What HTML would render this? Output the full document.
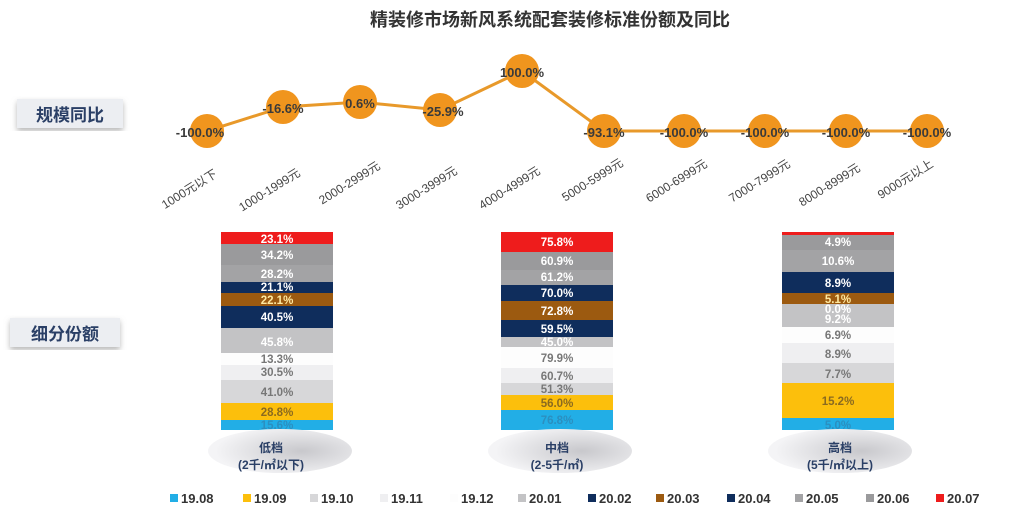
<!DOCTYPE html>
<html><head><meta charset="utf-8"><style>
body{margin:0;width:1024px;height:524px;background:#fff;overflow:hidden;font-family:"Liberation Sans","Noto Sans CJK SC",sans-serif}
</style></head><body>
<svg width="1024" height="524" xmlns="http://www.w3.org/2000/svg" style="font-family:'Liberation Sans','Noto Sans CJK SC',sans-serif">
<defs>
<radialGradient id="eg" cx="0.65" cy="0.5" r="0.6"><stop offset="0" stop-color="#c8c8cc"/><stop offset="1" stop-color="#f4f4f6"/></radialGradient>
<filter id="sh"><feDropShadow dx="0" dy="3" stdDeviation="3" flood-color="#888" flood-opacity="0.6"/></filter>
</defs>
<text x="550" y="26" text-anchor="middle" font-size="18" font-weight="bold" fill="#333">精装修市场新风系统配套装修标准份额及同比</text>
<rect x="17" y="99" width="106" height="29" fill="#eceef2" filter="url(#sh)"/>
<text x="70" y="121" text-anchor="middle" font-size="17" font-weight="bold" fill="#2a3f66">规模同比</text>
<rect x="10" y="318" width="110" height="29" fill="#eceef2" filter="url(#sh)"/>
<text x="65" y="340" text-anchor="middle" font-size="17" font-weight="bold" fill="#2a3f66">细分份额</text>
<polyline fill="none" stroke="#e8992a" stroke-width="3" points="207,131 283,107 360,102 440,110 522,71 604,131 684,131 765,131 846,131 927,131"/>
<g fill="#f0951e">
<circle cx="207" cy="131" r="17"/><circle cx="283" cy="107" r="17"/><circle cx="360" cy="102" r="17"/><circle cx="440" cy="110" r="17"/><circle cx="522" cy="71" r="17"/><circle cx="604" cy="131" r="17"/><circle cx="684" cy="131" r="17"/><circle cx="765" cy="131" r="17"/><circle cx="846" cy="131" r="17"/><circle cx="927" cy="131" r="17"/>
</g>
<g font-size="13" font-weight="bold" fill="#3a3a3a" text-anchor="middle">
<text x="200" y="137">-100.0%</text><text x="283" y="113">-16.6%</text><text x="360" y="108">0.6%</text><text x="443" y="116">-25.9%</text><text x="522" y="77">100.0%</text><text x="604" y="137">-93.1%</text><text x="684" y="137">-100.0%</text><text x="765" y="137">-100.0%</text><text x="846" y="137">-100.0%</text><text x="927" y="137">-100.0%</text>
</g>
<g font-size="12" fill="#444" text-anchor="end">
<text transform="translate(218,176) rotate(-32)">1000元以下</text>
<text transform="translate(301,175) rotate(-32)">1000-1999元</text>
<text transform="translate(381,168) rotate(-32)">2000-2999元</text>
<text transform="translate(458,173) rotate(-32)">3000-3999元</text>
<text transform="translate(541,173) rotate(-32)">4000-4999元</text>
<text transform="translate(624,165) rotate(-32)">5000-5999元</text>
<text transform="translate(708,166) rotate(-32)">6000-6999元</text>
<text transform="translate(791,166) rotate(-32)">7000-7999元</text>
<text transform="translate(861,170) rotate(-32)">8000-8999元</text>
<text transform="translate(934,166) rotate(-32)">9000元以上</text>
</g>
<g>
<rect x="221" y="232" width="112" height="12" fill="#ee1c1c"/>
<rect x="221" y="244" width="112" height="21" fill="#9a9a9c"/>
<rect x="221" y="265" width="112" height="17" fill="#a3a3a5"/>
<rect x="221" y="282" width="112" height="11" fill="#0f2d5c"/>
<rect x="221" y="293" width="112" height="13" fill="#9c5a10"/>
<rect x="221" y="306" width="112" height="22" fill="#0f2d5c"/>
<rect x="221" y="328" width="112" height="25" fill="#c3c3c5"/>
<rect x="221" y="353" width="112" height="12" fill="#fdfdfd"/>
<rect x="221" y="365" width="112" height="15" fill="#efeff1"/>
<rect x="221" y="380" width="112" height="23" fill="#d7d7d9"/>
<rect x="221" y="403" width="112" height="17" fill="#fcbf0c"/>
<rect x="221" y="420" width="112" height="10" fill="#22aee6"/>
</g>
<g>
<rect x="501" y="232" width="112" height="20" fill="#ee1c1c"/>
<rect x="501" y="252" width="112" height="18" fill="#9a9a9c"/>
<rect x="501" y="270" width="112" height="15" fill="#a3a3a5"/>
<rect x="501" y="285" width="112" height="16" fill="#0f2d5c"/>
<rect x="501" y="301" width="112" height="19" fill="#9c5a10"/>
<rect x="501" y="320" width="112" height="17" fill="#0f2d5c"/>
<rect x="501" y="337" width="112" height="10" fill="#c3c3c5"/>
<rect x="501" y="347" width="112" height="21" fill="#fdfdfd"/>
<rect x="501" y="368" width="112" height="15" fill="#efeff1"/>
<rect x="501" y="383" width="112" height="12" fill="#d7d7d9"/>
<rect x="501" y="395" width="112" height="15" fill="#fcbf0c"/>
<rect x="501" y="410" width="112" height="20" fill="#22aee6"/>
</g>
<g>
<rect x="782" y="232" width="112" height="3" fill="#ee1c1c"/>
<rect x="782" y="235" width="112" height="15" fill="#9a9a9c"/>
<rect x="782" y="250" width="112" height="22" fill="#a3a3a5"/>
<rect x="782" y="272" width="112" height="21" fill="#0f2d5c"/>
<rect x="782" y="293" width="112" height="11" fill="#9c5a10"/>
<rect x="782" y="304" width="112" height="23" fill="#c3c3c5"/>
<rect x="782" y="327" width="112" height="16" fill="#fdfdfd"/>
<rect x="782" y="343" width="112" height="20" fill="#efeff1"/>
<rect x="782" y="363" width="112" height="20" fill="#d7d7d9"/>
<rect x="782" y="383" width="112" height="35" fill="#fcbf0c"/>
<rect x="782" y="418" width="112" height="12" fill="#22aee6"/>
</g>
<g font-size="11.5" font-weight="bold" text-anchor="middle">
<g fill="#fff">
<text x="277" y="243">23.1%</text><text x="277" y="259">34.2%</text><text x="277" y="278">28.2%</text><text x="277" y="291">21.1%</text><text x="277" y="321">40.5%</text><text x="277" y="346">45.8%</text>
<text x="557" y="246">75.8%</text><text x="557" y="265">60.9%</text><text x="557" y="281">61.2%</text><text x="557" y="297">70.0%</text><text x="557" y="315">72.8%</text><text x="557" y="333">59.5%</text><text x="557" y="346">45.0%</text>
<text x="838" y="246">4.9%</text><text x="838" y="265">10.6%</text><text x="838" y="287">8.9%</text><text x="838" y="313">0.0%</text><text x="838" y="323">9.2%</text>
</g>
<g fill="#ffe9a0"><text x="277" y="304">22.1%</text><text x="838" y="303">5.1%</text></g>
<g fill="#777">
<text x="277" y="363">13.3%</text><text x="277" y="376">30.5%</text><text x="277" y="396">41.0%</text>
<text x="557" y="362">79.9%</text><text x="557" y="380">60.7%</text><text x="557" y="393">51.3%</text>
<text x="838" y="339">6.9%</text><text x="838" y="358">8.9%</text><text x="838" y="378">7.7%</text>
</g>
<g fill="#8a6a20"><text x="277" y="416">28.8%</text><text x="557" y="407">56.0%</text><text x="838" y="405">15.2%</text></g>
<g fill="#2b8fc0"><text x="277" y="429">15.6%</text><text x="557" y="424">76.8%</text><text x="838" y="429">5.0%</text></g>
</g>
<ellipse cx="280" cy="451" rx="72" ry="22" fill="url(#eg)"/>
<ellipse cx="560" cy="451" rx="72" ry="22" fill="url(#eg)"/>
<ellipse cx="840" cy="451" rx="72" ry="22" fill="url(#eg)"/>
<g font-size="12" font-weight="bold" fill="#2a3f66" text-anchor="middle">
<text x="271" y="452">低档</text><text x="271" y="469">(2千/㎡以下)</text>
<text x="557" y="452">中档</text><text x="557" y="469">(2-5千/㎡)</text>
<text x="840" y="452">高档</text><text x="840" y="469">(5千/㎡以上)</text>
</g>
<g font-size="13" font-weight="bold" fill="#333">
<rect x="170" y="494" width="8" height="8" fill="#22aee6"/><text x="181" y="503">19.08</text>
<rect x="243" y="494" width="8" height="8" fill="#fcbf0c"/><text x="254" y="503">19.09</text>
<rect x="310" y="494" width="8" height="8" fill="#d7d7d9"/><text x="321" y="503">19.10</text>
<rect x="380" y="494" width="8" height="8" fill="#efeff1"/><text x="391" y="503">19.11</text>
<rect x="450" y="494" width="8" height="8" fill="#fdfdfd"/><text x="461" y="503">19.12</text>
<rect x="518" y="494" width="8" height="8" fill="#c3c3c5"/><text x="529" y="503">20.01</text>
<rect x="588" y="494" width="8" height="8" fill="#0f2d5c"/><text x="599" y="503">20.02</text>
<rect x="656" y="494" width="8" height="8" fill="#9c5a10"/><text x="667" y="503">20.03</text>
<rect x="727" y="494" width="8" height="8" fill="#0f2d5c"/><text x="738" y="503">20.04</text>
<rect x="795" y="494" width="8" height="8" fill="#a3a3a5"/><text x="806" y="503">20.05</text>
<rect x="866" y="494" width="8" height="8" fill="#9a9a9c"/><text x="877" y="503">20.06</text>
<rect x="936" y="494" width="8" height="8" fill="#ee1c1c"/><text x="947" y="503">20.07</text>
</g>
</svg>
</body></html>
